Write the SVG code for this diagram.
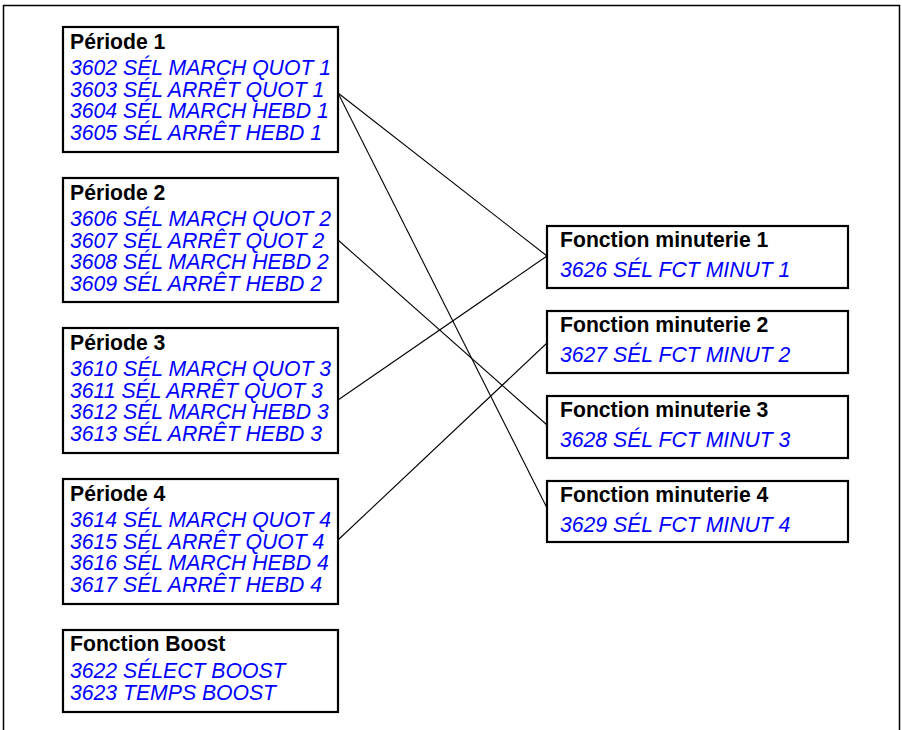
<svg xmlns="http://www.w3.org/2000/svg" width="902" height="730" viewBox="0 0 902 730">
<style>
.box{fill:#fff;stroke:#000;stroke-width:2.2}
.t{font-family:"Liberation Sans",Arial,sans-serif;font-size:21.2px;font-weight:bold;fill:#000}
.p{font-family:"Liberation Sans",Arial,sans-serif;font-size:21.2px;font-style:italic;fill:#0000ff}
.c{stroke:#000;stroke-width:1.1;fill:none}
</style>
<rect x="0" y="0" width="902" height="730" fill="#fff"/>
<path d="M3.5 731 V5.5 H899.5 V731" fill="none" stroke="#000" stroke-width="1.5"/>
<g id="connectors">
<line class="c" x1="338" y1="93" x2="547" y2="256"/>
<line class="c" x1="338" y1="93" x2="547" y2="508"/>
<line class="c" x1="338" y1="240" x2="547" y2="425"/>
<line class="c" x1="338" y1="400" x2="547" y2="256"/>
<line class="c" x1="338" y1="540" x2="547" y2="343"/>
</g>
<g id="periode1">
<rect class="box" x="63" y="27" width="275" height="125"/>
<text class="t" x="70" y="49">Période 1</text>
<text class="p" x="70" y="74.5">3602 SÉL MARCH QUOT 1</text>
<text class="p" x="70" y="96.5">3603 SÉL ARRÊT QUOT 1</text>
<text class="p" x="70" y="118">3604 SÉL MARCH HEBD 1</text>
<text class="p" x="70" y="139.5">3605 SÉL ARRÊT HEBD 1</text>
</g>
<g id="periode2">
<rect class="box" x="63" y="178" width="275" height="124"/>
<text class="t" x="70" y="200">Période 2</text>
<text class="p" x="70" y="225.5">3606 SÉL MARCH QUOT 2</text>
<text class="p" x="70" y="247.5">3607 SÉL ARRÊT QUOT 2</text>
<text class="p" x="70" y="269">3608 SÉL MARCH HEBD 2</text>
<text class="p" x="70" y="290.5">3609 SÉL ARRÊT HEBD 2</text>
</g>
<g id="periode3">
<rect class="box" x="63" y="328" width="275" height="125"/>
<text class="t" x="70" y="350">Période 3</text>
<text class="p" x="70" y="375.5">3610 SÉL MARCH QUOT 3</text>
<text class="p" x="70" y="397.5">3611 SÉL ARRÊT QUOT 3</text>
<text class="p" x="70" y="419">3612 SÉL MARCH HEBD 3</text>
<text class="p" x="70" y="440.5">3613 SÉL ARRÊT HEBD 3</text>
</g>
<g id="periode4">
<rect class="box" x="63" y="479" width="275" height="125"/>
<text class="t" x="70" y="501">Période 4</text>
<text class="p" x="70" y="526.5">3614 SÉL MARCH QUOT 4</text>
<text class="p" x="70" y="548.5">3615 SÉL ARRÊT QUOT 4</text>
<text class="p" x="70" y="570">3616 SÉL MARCH HEBD 4</text>
<text class="p" x="70" y="591.5">3617 SÉL ARRÊT HEBD 4</text>
</g>
<g id="boost">
<rect class="box" x="63" y="630" width="275" height="82"/>
<text class="t" x="70" y="651">Fonction Boost</text>
<text class="p" x="70" y="677.5">3622 SÉLECT BOOST</text>
<text class="p" x="70" y="699.5">3623 TEMPS BOOST</text>
</g>
<g id="minuterie1">
<rect class="box" x="547" y="226" width="301" height="62"/>
<text class="t" x="560" y="247">Fonction minuterie 1</text>
<text class="p" x="560" y="277">3626 SÉL FCT MINUT 1</text>
</g>
<g id="minuterie2">
<rect class="box" x="547" y="311" width="301" height="62"/>
<text class="t" x="560" y="332">Fonction minuterie 2</text>
<text class="p" x="560" y="362">3627 SÉL FCT MINUT 2</text>
</g>
<g id="minuterie3">
<rect class="box" x="547" y="396" width="301" height="62"/>
<text class="t" x="560" y="417">Fonction minuterie 3</text>
<text class="p" x="560" y="447">3628 SÉL FCT MINUT 3</text>
</g>
<g id="minuterie4">
<rect class="box" x="547" y="481" width="301" height="61"/>
<text class="t" x="560" y="502">Fonction minuterie 4</text>
<text class="p" x="560" y="532">3629 SÉL FCT MINUT 4</text>
</g>
</svg>
